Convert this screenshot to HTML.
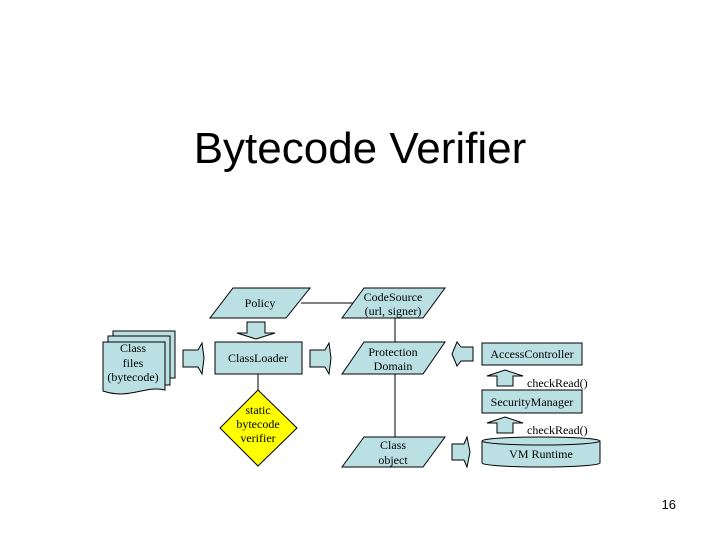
<!DOCTYPE html>
<html><head><style>body{margin:0;background:#fff}svg{display:block}</style></head><body>
<svg width="720" height="540" xmlns="http://www.w3.org/2000/svg" font-family="Liberation Serif, serif" font-size="12">
<text x="360" y="163" text-anchor="middle" font-family="Liberation Sans, sans-serif" font-size="44">Bytecode Verifier</text>
<text x="676" y="509" text-anchor="end" font-family="Liberation Sans, sans-serif" font-size="13">16</text>
<g fill="#bbe0e3" stroke="#000" stroke-width="1">
<line x1="301" y1="303" x2="356" y2="303"/>
<line x1="395" y1="318" x2="395" y2="342"/>
<line x1="395" y1="374" x2="395" y2="437"/>
<line x1="258" y1="374" x2="258" y2="390"/>
<polygon points="233,288 310,288 286,318 210,318"/>
<polygon points="364,288 445,288 423,318 342,318"/>
<polygon points="364,342 445,342 423,374 342,374"/>
<polygon points="364,437 445,437 423,467 342,467"/>
<polygon points="247,322 265,322 265,333 275,333 256,339 237,333 247,333"/>
<rect x="215" y="342" width="87" height="32"/>
<path d="M113,331 H175 V378 H113 Z"/>
<path d="M108,336 H170 V385 H108 Z"/>
<path d="M103,342 H165 V390 C145,385 130,400 103,391 Z"/>
<polygon points="183,350 198,350 202,343 204,358 202,374 198,367 183,367"/>
<polygon points="310,350 325,350 329,343 331,358 329,374 325,367 310,367"/>
<polygon points="473,347 461,347 457,342 452,354 457,366 461,361 473,361"/>
<polygon points="452,444 464,444 467,437 470,452 467,467 464,460 452,460"/>
<polygon points="258,390 297,428 258,466 220,428" fill="#ffff00"/>
<rect x="482" y="343" width="100" height="22"/>
<rect x="482" y="390" width="100" height="23"/>
<polygon points="497,386 513,386 513,376 523,376 505,370 487,376 497,376"/>
<polygon points="497,433 513,433 513,423 523,423 505,417 487,423 497,423"/>
<path d="M482,441 V463 A59,4 0 0 0 600,463 V441 A59,4 0 0 0 482,441 Z"/>
<path d="M482,441 A59,4 0 0 0 600,441" fill="none"/>
</g>
<g text-anchor="middle">
<text x="260" y="307">Policy</text>
<text x="393" y="301">CodeSource</text><text x="393" y="315">(url, signer)</text>
<text x="258" y="362">ClassLoader</text>
<text x="393" y="356">Protection</text><text x="393" y="370">Domain</text>
<text x="393" y="449">Class</text><text x="393" y="464">object</text>
<text x="133" y="352">Class</text><text x="133" y="367">files</text><text x="133" y="381">(bytecode)</text>
<text x="258" y="414">static</text><text x="258" y="428">bytecode</text><text x="258" y="442">verifier</text>
<text x="532" y="358">AccessController</text>
<text x="532" y="406">SecurityManager</text>
<text x="541" y="458">VM Runtime</text>
</g>
<text x="527" y="387">checkRead()</text>
<text x="527" y="434">checkRead()</text>
</svg>
</body></html>
